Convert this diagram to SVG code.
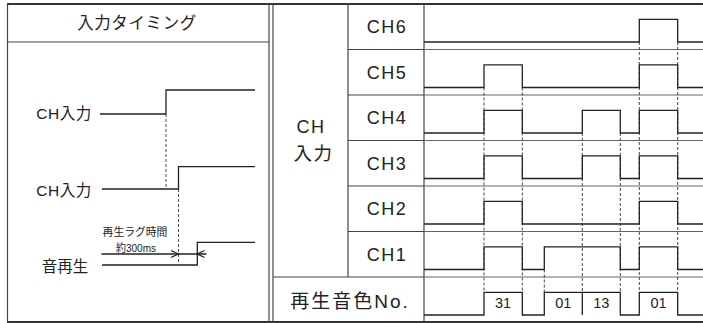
<svg xmlns="http://www.w3.org/2000/svg" width="703" height="323" viewBox="0 0 703 323">
<style>
.frame{stroke:#444;stroke-width:1.2;fill:none}
.thick{stroke:#333;stroke-width:2;fill:none}
.grid{stroke:#666;stroke-width:1;fill:none}
.sig{stroke:#222;stroke-width:1.3;fill:none}
.dash{stroke:#333;stroke-width:0.9;stroke-dasharray:3 2;fill:none}
text{font-family:"Liberation Sans","Noto Sans CJK JP",sans-serif;fill:#222;text-anchor:middle;dominant-baseline:central}
.jp{font-family:"Noto Sans CJK JP","Liberation Sans",sans-serif}
.lab{font-size:18px;letter-spacing:1.5px}
.num{font-size:14.5px}
</style>
<rect width="703" height="323" fill="#fff"/>

<g id="frame">
<line class="thick" x1="7" y1="4" x2="703" y2="4"/>
<line class="thick" x1="7" y1="322" x2="703" y2="322"/>
<line class="frame" x1="7.5" y1="4" x2="7.5" y2="322"/>
<line class="frame" x1="269" y1="4" x2="269" y2="322"/>
<line class="frame" x1="273" y1="4" x2="273" y2="322"/>
<line class="frame" x1="7" y1="42" x2="269" y2="42"/>
<line class="frame" x1="348" y1="4" x2="348" y2="277"/>
<line class="frame" x1="424" y1="4" x2="424" y2="322"/>
<line class="frame" x1="348" y1="49.5" x2="424" y2="49.5"/>
<line class="frame" x1="348" y1="95" x2="424" y2="95"/>
<line class="frame" x1="348" y1="140.5" x2="424" y2="140.5"/>
<line class="frame" x1="348" y1="186" x2="424" y2="186"/>
<line class="frame" x1="348" y1="231.5" x2="424" y2="231.5"/>
<line class="frame" x1="273" y1="277" x2="424" y2="277"/>
<line class="grid" x1="424" y1="49.5" x2="703" y2="49.5"/>
<line class="grid" x1="424" y1="95" x2="703" y2="95"/>
<line class="grid" x1="424" y1="140.5" x2="703" y2="140.5"/>
<line class="grid" x1="424" y1="186" x2="703" y2="186"/>
<line class="grid" x1="424" y1="231.5" x2="703" y2="231.5"/>
<line class="grid" x1="424" y1="277" x2="703" y2="277"/>
</g>

<g id="left-panel">
<text class="jp" x="137" y="22" font-size="16.5" letter-spacing="0.6">入力タイミング</text>
<text x="64" y="113" font-size="15.5" letter-spacing="0.5">CH入力</text>
<text x="64" y="190" font-size="15.5" letter-spacing="0.5">CH入力</text>
<text class="jp" x="65" y="265" font-size="15.5">音再生</text>
<text class="jp" x="135" y="231" font-size="10.8">再生ラグ時間</text>
<text x="136" y="247.5" font-size="10.8" textLength="40" lengthAdjust="spacingAndGlyphs">約300ms</text>
<polyline class="sig" points="100,114 166,114 166,90 255,90"/>
<polyline class="sig" points="102,189 178.5,189 178.5,166.7 255,166.7"/>
<polyline class="sig" points="102,265 197.3,265 197.3,242.3 255,242.3"/>
<line class="dash" x1="166" y1="114" x2="166" y2="189"/>
<line class="dash" x1="178.5" y1="189" x2="178.5" y2="265"/>
<line class="sig" x1="101.5" y1="254" x2="206.5" y2="254" stroke-width="1"/>
<polyline class="sig" points="171,250.5 178.3,254 171,257.5" stroke-width="1"/>
<polyline class="sig" points="204.5,250.5 197.3,254 204.5,257.5" stroke-width="1"/>
</g>

<g id="labels">
<text class="lab" x="387" y="27">CH6</text>
<text class="lab" x="387" y="72.5">CH5</text>
<text class="lab" x="387" y="118">CH4</text>
<text class="lab" x="387" y="163.5">CH3</text>
<text class="lab" x="387" y="209">CH2</text>
<text class="lab" x="387" y="254.5">CH1</text>
<text x="311" y="127" font-size="18" letter-spacing="1.5">CH</text>
<text class="jp" x="313.5" y="152" font-size="18.5" letter-spacing="1.5">入力</text>
<text x="350" y="301" font-size="19" letter-spacing="2">再生音色No.</text>
</g>

<g id="connectors">
<line class="dash" x1="484" y1="87.5" x2="484" y2="292.3"/>
<line class="dash" x1="522.3" y1="87.5" x2="522.3" y2="292.3"/>
<line class="dash" x1="582.3" y1="133" x2="582.3" y2="292.3"/>
<line class="dash" x1="620.3" y1="133" x2="620.3" y2="292.3"/>
<line class="dash" x1="639.3" y1="42" x2="639.3" y2="292.3"/>
<line class="dash" x1="677.7" y1="42" x2="677.7" y2="292.3"/>
<line class="dash" x1="544.3" y1="269.5" x2="544.3" y2="292.3"/>
</g>

<g id="signals">
<polyline id="ch6" class="sig" points="424,42 639.3,42 639.3,19.3 677.7,19.3 677.7,42 703,42"/>
<polyline id="ch5" class="sig" points="424,87.5 484,87.5 484,64.8 522.3,64.8 522.3,87.5 639.3,87.5 639.3,64.8 677.7,64.8 677.7,87.5 703,87.5"/>
<polyline id="ch4" class="sig" points="424,133 484,133 484,110.3 522.3,110.3 522.3,133 582.3,133 582.3,110.3 620.3,110.3 620.3,133 639.3,133 639.3,110.3 677.7,110.3 677.7,133 703,133"/>
<polyline id="ch3" class="sig" points="424,178.5 484,178.5 484,155.8 522.3,155.8 522.3,178.5 582.3,178.5 582.3,155.8 620.3,155.8 620.3,178.5 639.3,178.5 639.3,155.8 677.7,155.8 677.7,178.5 703,178.5"/>
<polyline id="ch2" class="sig" points="424,224 484,224 484,201.3 522.3,201.3 522.3,224 639.3,224 639.3,201.3 677.7,201.3 677.7,224 703,224"/>
<polyline id="ch1" class="sig" points="424,269.5 484,269.5 484,246.8 522.3,246.8 522.3,269.5 544.3,269.5 544.3,246.8 620.3,246.8 620.3,269.5 639.3,269.5 639.3,246.8 677.7,246.8 677.7,269.5 703,269.5"/>
<polyline id="tone" class="sig" points="424,315 484,315 484,292.3 522.3,292.3 522.3,315 544.3,315 544.3,292.3 620.3,292.3 620.3,315 639.3,315 639.3,292.3 677.7,292.3 677.7,315 703,315"/>
<line class="sig" x1="582.3" y1="292.3" x2="582.3" y2="315"/>
<text class="num" x="503" y="303">31</text>
<text class="num" x="563.3" y="303">01</text>
<text class="num" x="601.3" y="303">13</text>
<text class="num" x="658.5" y="303">01</text>
</g>
</svg>
